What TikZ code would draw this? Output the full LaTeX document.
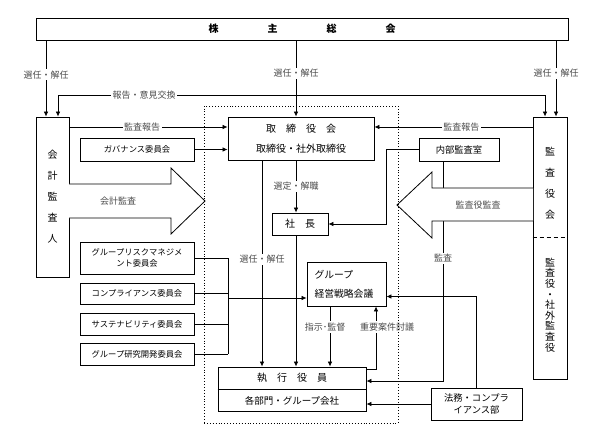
\documentclass[tikz,border=0pt]{standalone}
\usepackage{fontspec}
\setmainfont{Noto Sans CJK JP}
\usetikzlibrary{arrows.meta,positioning,calc}

\begin{document}
\begin{tikzpicture}[x=1pt,y=-1pt]

\tikzset{box/.style={draw, line width=0.9pt, inner sep=0pt, align=center, font=\fontsize{10}{13}\selectfont},
cbox/.style={box, minimum width=114pt, font=\fontsize{8.3}{11.7}\selectfont},
lbl/.style={fill=white, text=black!70, inner sep=1.5pt, font=\fontsize{9}{10}\selectfont},
ln/.style={line width=0.7pt},
>={Latex[length=5pt,width=4.5pt]}}

\useasboundingbox (0,0) rectangle (600,441);

% lanes
\coordinate (l1) at (46,0);
\coordinate (l2) at (58,0);
\coordinate (xA) at (262,0);
\coordinate (xC) at (296,0);
\coordinate (xB) at (330,0);
\coordinate (xD) at (376,0);
\coordinate (xI) at (386,0);
\coordinate (xK) at (443,0);
\coordinate (xR1) at (545,0);
\coordinate (xR2) at (556,0);
\coordinate (xBus) at (228,0);
\coordinate (yRep) at (0,95);
\coordinate (yAud) at (0,127);
\coordinate (yLeg) at (0,296.5);
\coordinate (yBus) at (0,298);
\coordinate (yRet) at (0,369);
\coordinate (yInt) at (0,381);

% boxes
\node[box, minimum width=532pt, minimum height=22pt, font=\bfseries\fontsize{10}{12}\selectfont] (soukai) at (302,29) {株\hspace{4.9em}主\hspace{4.9em}総\hspace{4.9em}会};

\node[box, minimum width=33pt, minimum height=160pt, font=\fontsize{10}{21}\selectfont] (kaikei) at (52.5,197) {会\\計\\監\\査\\人};

\node[box, minimum width=34pt, minimum height=262pt] (kansa) at (550,248) {};
\node[align=center, inner sep=0pt, font=\fontsize{10}{21}\selectfont] (kansaA) at (550,183) {監\\査\\役\\会};
\node[align=center, inner sep=0pt, font=\fontsize{10}{10.6}\selectfont] (kansaB) at (550,305) {監\\査\\役\\・\\社\\外\\監\\査\\役};
\draw[line width=0.9pt, dash pattern=on 4pt off 3pt] (kansa.west |- 0,237) -- (kansa.east |- 0,237);

\node[box, minimum width=146pt, minimum height=43pt, font=\fontsize{10}{20}\selectfont] (torishimari) at (301,138.5) {取　締　役　会\\取締役・社外取締役};
\node[cbox, minimum height=23pt] (gov) at (137,149.5) {ガバナンス委員会};
\node[box, minimum width=80pt, minimum height=23pt, font=\fontsize{9.3}{11}\selectfont] (naibu) at (459,149.5) {内部監査室};
\node[box, minimum width=56pt, minimum height=22pt] (shacho) at (300,224) {社　長};
\node[box, minimum width=79pt, minimum height=44pt, align=left, text width=64pt, font=\fontsize{9.8}{19}\selectfont] (group) at (346.5,284) {グループ\\経営戦略会議};

\foreach \n/\y/\h/\t in {risk/258/32pt/{グループリスクマネジメ\\ント委員会}, comp/293.5/21pt/コンプライアンス委員会, sus/324/22pt/サステナビリティ委員会, rd/354/22pt/グループ研究開発委員会}
\node[cbox, minimum height=\h] (\n) at (137,\y) {\t};

\node[box, minimum width=148pt, minimum height=44pt] (shikko) at (292,389) {};
\node[font=\fontsize{10}{12}\selectfont] (shikkoA) at (292,378) {執　行　役　員};
\node[font=\fontsize{9.5}{12}\selectfont] (shikkoB) at (292,400.5) {各部門・グループ会社};
\draw[line width=0.9pt] (shikko.west |- 0,389) -- (shikko.east |- 0,389);

\node[box, minimum width=91pt, minimum height=32pt, font=\fontsize{9.3}{12}\selectfont] (houmu) at (476.5,404) {法務・コンプラ\\イアンス部};

% connectors
\draw[ln,->] (l1 |- soukai.south) -- node[lbl, pos=0.45] {選任・解任} (l1 |- kaikei.north);
\draw[ln,->] (xC |- soukai.south) -- node[lbl, pos=0.43] {選任・解任} (xC |- torishimari.north);
\draw[ln,->] (xR2 |- soukai.south) -- node[lbl, pos=0.43] {選任・解任} (xR2 |- kansa.north);
\draw[ln,<->] (l2 |- kaikei.north) -- (l2 |- yRep) -- node[lbl, pos=0.177] {報告・意見交換} (xR1 |- yRep) -- (xR1 |- kansa.north);

\draw[ln,->] (kaikei.east |- yAud) -- node[lbl, pos=0.46] {監査報告} (torishimari.west |- yAud);
\draw[ln,->] (kansa.west |- yAud) -- node[lbl, pos=0.45] {監査報告} (torishimari.east |- yAud);
\draw[ln,->] (gov.east) -- (torishimari.west |- gov.east);

\draw[ln,->] (xC |- torishimari.south) -- node[lbl] {選定・解職} (xC |- shacho.north);
\draw[ln,->] (xC |- shacho.south) -- (xC |- shikko.north);
\draw[ln,->] (xA |- torishimari.south) -- node[lbl, pos=0.48] {選任・解任} (xA |- shikko.north);
\draw[ln,->] (xB |- group.south) -- node[lbl, pos=0.34, xshift=-5pt] {指示･監督} (xB |- shikko.north);
\draw[ln,->] (shikko.east |- yRet) -| node[lbl, pos=0.836, xshift=11pt] {重要案件討議} (xD |- group.south);

\draw[ln,->] (naibu.west) -| (xI |- shacho.east) -- (shacho.east);
\draw[ln,->] (xK |- naibu.south) -- node[lbl, pos=0.44] {監査} (xK |- yInt) -- (shikko.east |- yInt);
\draw[ln,->] (houmu.north) |- (group.east |- yLeg);
\draw[ln,->] (houmu.west) -- (shikko.east |- houmu.west);

\foreach \n in {risk,comp,sus,rd}
\draw[ln] (\n.east) -- (\n.east -| xBus);
\draw[ln] (xBus |- risk.east) -- (xBus |- rd.east);
\draw[ln,->] (xBus |- yBus) -- (group.west |- yBus);

% big arrows
\draw[line width=0.8pt, fill=white] (69,184) -- (171,184) -- (171,168) -- (205,201) -- (171,234) -- (171,218) -- (69,218);
\node[text=black!70, font=\fontsize{9}{10}\selectfont] (kaikeiLbl) at (118,201) {会計監査};
\draw[line width=0.8pt, fill=white] (533,188) -- (432,188) -- (432,172) -- (397,205) -- (432,238) -- (432,221) -- (533,221);
\node[text=black!70, font=\fontsize{9}{10}\selectfont] (kansaLbl) at (478,205) {監査役監査};

% executive area
\node[draw, dotted, line width=0.9pt, minimum width=194pt, minimum height=317pt, inner sep=0pt] (exec) at (301,264.5) {};

\end{tikzpicture}
\end{document}
